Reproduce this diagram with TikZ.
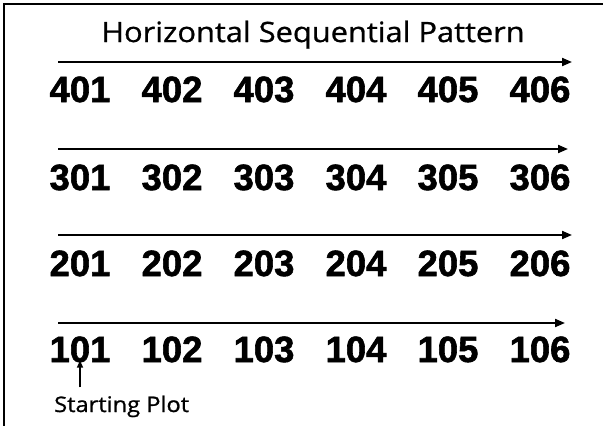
\documentclass[tikz,border=0pt]{standalone}
\usepackage{fontspec}
\setmainfont{Open Sans}
\newfontfamily\numfont[RawFeature={embolden=1.6}]{Liberation Sans Bold}
\newfontfamily\titlefont[RawFeature={embolden=0.9;extend=1.1}]{Open Sans}
\usetikzlibrary{arrows.meta}

\begin{document}
\begin{tikzpicture}[x=1pt, y=-1pt,
    num/.style={font=\numfont\fontsize{36.5}{36.5}\selectfont, anchor=base, inner sep=0pt},
    rowarrow/.style={line width=2pt, -{Triangle[length=10pt, width=8pt]}}]
    \useasboundingbox (0,0) rectangle (603,426);

    % frame
    \draw[line width=2pt] (4,426) -- (4,4) -- (603,4);

    \node[font=\titlefont\fontsize{28}{28}\selectfont, anchor=base] (title) at (313,42) {Horizontal Sequential Pattern};

    % rows of plots
    \foreach \r/\yb/\ya/\xe in {4/102/62/572, 3/190/149/568, 2/276/235/572, 1/362/323/565} {
        \foreach \c in {1,...,6} {
            \node[num] (n\r\c) at ({80+92*(\c-1)}, \yb) {\r0\c};
        }
        \coordinate (s\r) at (58,\ya);
        \coordinate (e\r) at (\xe,\ya);
        \draw[rowarrow] (s\r) -- (e\r);
    }

    % starting plot
    \node[font=\titlefont\fontsize{21.5}{21.5}\selectfont, anchor=base west, inner sep=1pt] (start) at (53,412) {Starting Plot};
    \coordinate (sp) at ([yshift=7pt]start.north -| n11.south);
    \draw[line width=1.5pt, -{Triangle[length=7pt, width=6pt]}] (sp) -- ([yshift=2pt]n11.south);
\end{tikzpicture}
\end{document}
